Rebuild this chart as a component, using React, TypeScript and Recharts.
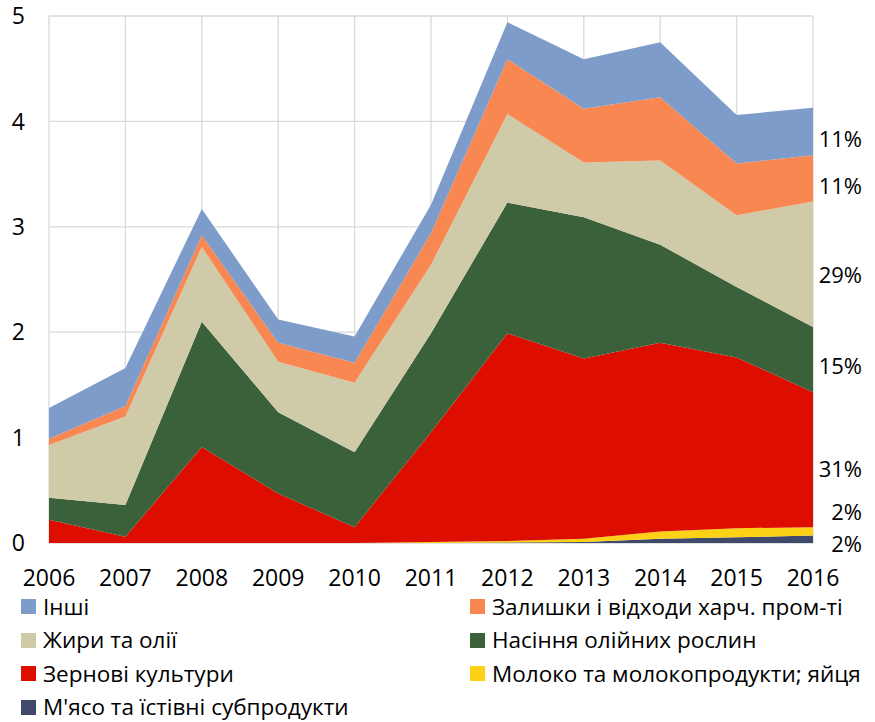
import { AreaChart, Area, XAxis, YAxis, CartesianGrid, ReferenceDot } from 'recharts'

const years = ['2006', '2007', '2008', '2009', '2010', '2011', '2012', '2013', '2014', '2015', '2016']

// bottom to top of the stack
const meat = [0, 0, 0, 0, 0, 0, 0.005, 0.01, 0.04, 0.055, 0.07]
const milk = [0, 0, 0, 0, 0, 0.01, 0.015, 0.03, 0.07, 0.085, 0.08]
const grain = [0.22, 0.06, 0.91, 0.47, 0.15, 1.04, 1.97, 1.71, 1.79, 1.62, 1.28]
const seeds = [0.21, 0.3, 1.19, 0.77, 0.71, 0.94, 1.24, 1.34, 0.93, 0.67, 0.62]
const fats = [0.5, 0.84, 0.71, 0.48, 0.66, 0.65, 0.84, 0.52, 0.8, 0.68, 1.19]
const residues = [0.06, 0.1, 0.11, 0.18, 0.19, 0.3, 0.52, 0.51, 0.6, 0.49, 0.44]
const other = [0.29, 0.36, 0.25, 0.22, 0.25, 0.27, 0.35, 0.47, 0.52, 0.46, 0.45]

const shares2016 = ['2%', '2%', '31%', '15%', '29%', '11%', '11%']

const yTicks = [0, 1, 2, 3, 4, 5]

const series = [
  { key: 'meat', name: "М'ясо та їстівні субпродукти", color: '#3f4a6b', values: meat },
  { key: 'milk', name: 'Молоко та молокопродукти; яйця', color: '#fcd116', values: milk },
  { key: 'grain', name: 'Зернові культури', color: '#dd0e00', values: grain },
  { key: 'seeds', name: 'Насіння олійних рослин', color: '#3a613a', values: seeds },
  { key: 'fats', name: 'Жири та олії', color: '#cfcaa8', values: fats },
  { key: 'residues', name: 'Залишки і відходи харч. пром-ті', color: '#f88752', values: residues },
  { key: 'other', name: 'Інші', color: '#7e9cc9', values: other },
]

const data = years.map((year, i) => {
  const row: Record<string, number | string> = { year }
  series.forEach(s => { row[s.key] = s.values[i] })
  return row
})

// middle of each band in the last year, for the share labels
const last = years.length - 1
const labelMids = (() => {
  let base = 0
  return series.map(s => {
    const mid = base + s.values[last] / 2
    base += s.values[last]
    return mid
  })
})()

const labelNudge = [4, -20, 8, 5, 10, 7, 7]

const FONT = '"Open Sans", sans-serif'

// legend reads row by row, top of the stack first
const legendOrder = [...series].reverse()

export default function App() {
  return (
    <div style={{ position: 'absolute', left: 0, top: 0, width: 875, height: 722, background: '#fff', fontFamily: FONT }}>
      <AreaChart width={875} height={600} data={data} margin={{ top: 16, right: 62, bottom: 0, left: 0 }}>
        <CartesianGrid stroke="#d9d9d9" strokeWidth={1.3} />
        <XAxis
          dataKey="year"
          axisLine={false}
          tickLine={false}
          tickSize={0}
          tickMargin={27}
          height={57}
          interval={0}
          tick={{ fill: '#000', fontSize: 23, fontFamily: FONT }}
        />
        <YAxis
          domain={[0, 5]}
          ticks={yTicks}
          axisLine={false}
          tickLine={false}
          tickSize={0}
          tickMargin={24}
          width={49}
          tick={{ fill: '#000', fontSize: 23, fontFamily: FONT }}
        />
        {series.map(s => (
          <Area
            key={s.key}
            type="linear"
            dataKey={s.key}
            name={s.name}
            stackId="1"
            stroke="none"
            fill={s.color}
            fillOpacity={1}
            isAnimationActive={false}
          />
        ))}
        {series.map((s, i) => (
          <ReferenceDot
            key={'lbl-' + s.key}
            x={years[last]}
            y={labelMids[i]}
            r={0}
            stroke="none"
            fill="none"
            label={(props: any) => (
              <text
                x={props.viewBox.x + 49}
                y={props.viewBox.y + labelNudge[i]}
                textAnchor="end"
                dominantBaseline="central"
                fontSize={22}
                fontFamily={FONT}
                fill="#000"
              >
                {shares2016[i]}
              </text>
            )}
          />
        ))}
      </AreaChart>
      <div style={{ position: 'absolute', left: 21, top: 590, width: 854, display: 'grid', gridTemplateColumns: '449px 405px', rowGap: 0 }}>
        {legendOrder.map(s => (
          <div key={s.key} style={{ display: 'flex', alignItems: 'center', height: 33.5, whiteSpace: 'nowrap' }}>
            <span style={{ width: 15, height: 15, background: s.color, display: 'inline-block', marginRight: 7, flex: 'none' }} />
            <span style={{ fontSize: 22.5, lineHeight: '22px', color: '#000' }}>{s.name}</span>
          </div>
        ))}
      </div>
    </div>
  )
}
